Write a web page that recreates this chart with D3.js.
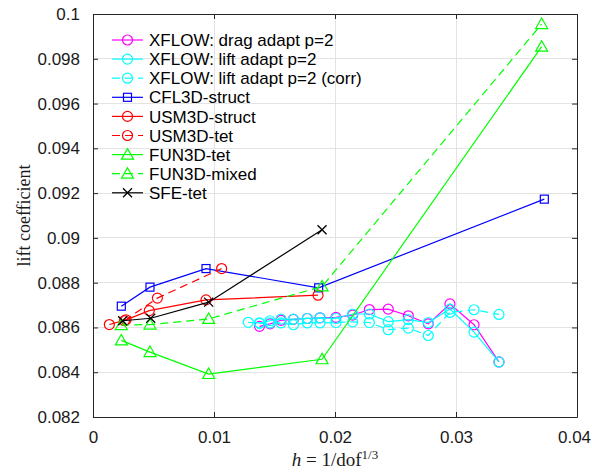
<!DOCTYPE html>
<html><head><meta charset="utf-8">
<script src="https://cdn.jsdelivr.net/npm/d3@7"></script>
<style>
html,body{margin:0;padding:0;background:#fff;}
svg text{font-family:"Liberation Sans",Arial,sans-serif;}
</style></head>
<body><svg id="c" width="592" height="473"></svg>
<script>
// ---- data ----
const xTicks = [0, 0.01, 0.02, 0.03, 0.04];
const yTicks = [0.082, 0.084, 0.086, 0.088, 0.09, 0.092, 0.094, 0.096, 0.098, 0.1];
const xTickLabels = ["0", "0.01", "0.02", "0.03", "0.04"];
const yTickLabels = ["0.082", "0.084", "0.086", "0.088", "0.09", "0.092", "0.094", "0.096", "0.098", "0.1"];

const xflowDragX = [0.01376, 0.01463, 0.01554, 0.01656, 0.01771, 0.01876, 0.02008, 0.02146, 0.02284, 0.0244, 0.02606, 0.02771, 0.0295, 0.03149, 0.03355];
const xflowDragY = [0.08605, 0.08616, 0.08632, 0.08636, 0.0864, 0.08643, 0.08645, 0.08655, 0.0868, 0.08682, 0.08652, 0.08616, 0.08705, 0.08612, 0.08446];
const xflowLiftX = [0.01283, 0.01376, 0.01463, 0.01554, 0.01656, 0.01771, 0.01876, 0.02008, 0.02146, 0.02284, 0.0244, 0.02606, 0.02771, 0.0295, 0.03149, 0.03355];
const xflowLiftY = [0.08623, 0.0862, 0.0863, 0.08637, 0.08637, 0.0864, 0.08643, 0.0864, 0.0866, 0.0866, 0.08626, 0.08635, 0.08622, 0.08682, 0.08579, 0.08446];
const xflowCorrX = [0.01376, 0.01463, 0.01554, 0.01656, 0.01771, 0.01876, 0.02008, 0.02146, 0.02284, 0.0244, 0.02606, 0.02771, 0.0295, 0.03149, 0.03355];
const xflowCorrY = [0.08618, 0.0862, 0.0862, 0.08612, 0.0862, 0.0862, 0.08622, 0.08625, 0.08622, 0.0859, 0.08597, 0.08564, 0.08667, 0.08679, 0.08658];
const cfl3dX = [0.00234, 0.00471, 0.00934, 0.01865, 0.0373];
const cfl3dY = [0.08695, 0.0878, 0.08863, 0.08777, 0.09173];
const usmStructX = [0.00135, 0.00273, 0.00465, 0.00934, 0.0186];
const usmStructY = [0.08613, 0.08634, 0.08675, 0.08723, 0.08744];
const usmTetX = [0.0026, 0.00532, 0.01063];
const usmTetY = [0.0863, 0.08731, 0.08863];
const fun3dTetX = [0.00234, 0.00471, 0.00956, 0.01893, 0.03708];
const fun3dTetY = [0.08542, 0.0849, 0.08392, 0.08458, 0.09854];
const fun3dMixedX = [0.00234, 0.00471, 0.00956, 0.01893, 0.03708];
const fun3dMixedY = [0.0861, 0.08613, 0.08638, 0.08783, 0.09955];
const sfeTetX = [0.00245, 0.00477, 0.00956, 0.01893];
const sfeTetY = [0.0863, 0.08641, 0.08713, 0.09036];

const seriesNames = ["XFLOW: drag adapt p=2", "XFLOW: lift adapt p=2", "XFLOW: lift adapt p=2 (corr)", "CFL3D-struct", "USM3D-struct", "USM3D-tet", "FUN3D-tet", "FUN3D-mixed", "SFE-tet"];

const series = [
  {name: seriesNames[0], xs: xflowDragX, ys: xflowDragY, color: "#ff00ff", dash: null, marker: "circle"},
  {name: seriesNames[1], xs: xflowLiftX, ys: xflowLiftY, color: "#00ffff", dash: null, marker: "circle"},
  {name: seriesNames[2], xs: xflowCorrX, ys: xflowCorrY, color: "#00ffff", dash: "8,5", marker: "circle"},
  {name: seriesNames[3], xs: cfl3dX, ys: cfl3dY, color: "#0000ff", dash: null, marker: "square"},
  {name: seriesNames[4], xs: usmStructX, ys: usmStructY, color: "#ff0000", dash: null, marker: "circle"},
  {name: seriesNames[5], xs: usmTetX, ys: usmTetY, color: "#ff0000", dash: "8,5", marker: "circle"},
  {name: seriesNames[6], xs: fun3dTetX, ys: fun3dTetY, color: "#00ff00", dash: null, marker: "triangle"},
  {name: seriesNames[7], xs: fun3dMixedX, ys: fun3dMixedY, color: "#00ff00", dash: "8,5", marker: "triangle"},
  {name: seriesNames[8], xs: sfeTetX, ys: sfeTetY, color: "#000000", dash: null, marker: "cross"}
];

// ---- layout ----
const L = 93, R = 577, T = 14, B = 417;
const svg = d3.select("#c");
const x = d3.scaleLinear().domain([0, 0.04]).range([L, R]);
const y = d3.scaleLinear().domain([0.082, 0.1]).range([B, T]);

// grid
const g = svg.append("g");
g.selectAll(".gx").data(xTicks).enter().append("line")
  .attr("x1", d => x(d)).attr("x2", d => x(d)).attr("y1", T).attr("y2", B)
  .attr("stroke", "#e3e3e3").attr("stroke-width", 1).attr("shape-rendering", "crispEdges");
g.selectAll(".gy").data(yTicks).enter().append("line")
  .attr("y1", d => y(d)).attr("y2", d => y(d)).attr("x1", L).attr("x2", R)
  .attr("stroke", "#e3e3e3").attr("stroke-width", 1).attr("shape-rendering", "crispEdges");

// axes (inward ticks, box)
const axCol = "#262626";
const axB = svg.append("g").attr("transform", `translate(0,${B})`)
  .call(d3.axisBottom(x).tickValues(xTicks).tickFormat((d, i) => xTickLabels[i]).tickSizeInner(-5).tickSizeOuter(0).tickPadding(14));
const axT = svg.append("g").attr("transform", `translate(0,${T})`)
  .call(d3.axisTop(x).tickValues(xTicks).tickFormat("").tickSizeInner(-5).tickSizeOuter(0));
const axL = svg.append("g").attr("transform", `translate(${L},0)`)
  .call(d3.axisLeft(y).tickValues(yTicks).tickFormat((d, i) => yTickLabels[i]).tickSizeInner(-5).tickSizeOuter(0).tickPadding(13));
const axR = svg.append("g").attr("transform", `translate(${R},0)`)
  .call(d3.axisRight(y).tickValues(yTicks).tickFormat("").tickSizeInner(-5).tickSizeOuter(0));
[axB, axT, axL, axR].forEach(a => {
  a.selectAll("path").attr("stroke", axCol).attr("stroke-width", 1);
  a.selectAll("line").attr("stroke", axCol).attr("stroke-width", 1);
  a.selectAll("text").attr("fill", "#1a1a1a").style("font-size", "17px").style("font-family", "'Liberation Sans', Arial, sans-serif");
});
// keep the last x tick label inside the canvas
axB.selectAll(".tick text").filter(d => d === 0.04).attr("dx", -3);

// marker drawing
function drawMarker(sel, type, color) {
  if (type === "circle") {
    sel.append("circle").attr("r", 5).attr("fill", "none").attr("stroke", color).attr("stroke-width", 1.2);
  } else if (type === "square") {
    sel.append("rect").attr("x", -4).attr("y", -4).attr("width", 8).attr("height", 8)
      .attr("fill", "none").attr("stroke", color).attr("stroke-width", 1.2);
  } else if (type === "triangle") {
    sel.append("path").attr("d", "M0,-6 L6,4.5 L-6,4.5 Z").attr("fill", "none").attr("stroke", color).attr("stroke-width", 1.2);
  } else if (type === "cross") {
    sel.append("path").attr("d", "M-4.5,-4.5 L4.5,4.5 M-4.5,4.5 L4.5,-4.5").attr("fill", "none").attr("stroke", color).attr("stroke-width", 1.3);
  }
}

const line = d3.line().x(d => x(d[0])).y(d => y(d[1]));
const plot = svg.append("g");
series.forEach(s => {
  const pts = s.xs.map((v, i) => [v, s.ys[i]]);
  const sg = plot.append("g");
  sg.append("path").datum(pts).attr("d", line).attr("fill", "none")
    .attr("stroke", s.color).attr("stroke-width", 1.2)
    .attr("stroke-dasharray", s.dash);
  sg.selectAll(".m").data(pts).enter().append("g")
    .attr("transform", d => `translate(${x(d[0])},${y(d[1])})`)
    .each(function () { drawMarker(d3.select(this), s.marker, s.color); });
});

// legend
const leg = svg.append("g");
series.forEach((s, i) => {
  const ly = 40 + i * 19.1;
  const row = leg.append("g").attr("transform", `translate(0,${ly})`);
  row.append("line").attr("x1", 112).attr("x2", 143).attr("y1", 0).attr("y2", 0)
    .attr("stroke", s.color).attr("stroke-width", 1.2).attr("stroke-dasharray", s.dash ? "8,5" : null);
  const mg = row.append("g").attr("transform", "translate(127.5,0)");
  drawMarker(mg, s.marker, s.color);
  row.append("text").attr("x", 149).attr("y", 0).attr("dy", "0.36em")
    .style("font-size", "17px").attr("fill", "#000").text(s.name);
});

// axis labels
svg.append("text").attr("transform", `translate(30,${(T + B) / 2}) rotate(-90)`)
  .attr("text-anchor", "middle").style("font-family", "'Liberation Serif','Times New Roman',serif")
  .style("font-size", "18px").attr("fill", "#1a1a1a").text("lift coefficient");

const xl = svg.append("text").attr("x", (L + R) / 2).attr("y", 466).attr("text-anchor", "middle")
  .style("font-family", "'Liberation Serif','Times New Roman',serif").style("font-size", "19px").attr("fill", "#1a1a1a");
xl.append("tspan").style("font-style", "italic").text("h");
xl.append("tspan").text(" = 1/dof");
xl.append("tspan").attr("dy", -7).style("font-size", "13px").text("1/3");
</script></body></html>
